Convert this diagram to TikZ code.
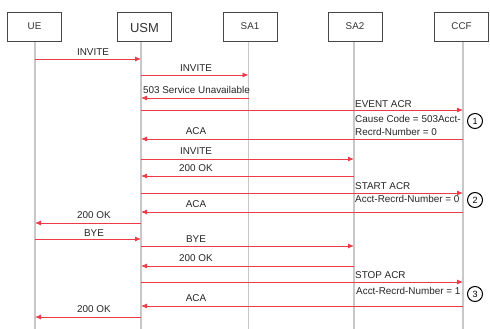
\documentclass[tikz,border=0pt]{standalone}
\usepackage{fontspec}
\setmainfont{Liberation Sans}
\usetikzlibrary{arrows.meta}
\definecolor{msgred}{RGB}{238,58,72}
\definecolor{lifegray}{RGB}{200,200,200}
\definecolor{boxgray}{RGB}{70,70,70}
\tikzset{
  entity/.style={draw=boxgray, line width=0.9pt, fill=white, minimum width=54pt, minimum height=29pt, inner sep=0pt, font=\fontsize{9.8}{11}\selectfont, text=black!80},
  lifeline/.style={draw=lifegray, line width=1.4pt},
  msg/.style={draw=msgred, line width=0.8pt, -{Latex[length=6pt,width=5pt]}},
  lbl/.style={font=\fontsize{9.9}{11}\selectfont, text=black!85, inner sep=0pt},
  step num/.style={draw=black, line width=1pt, circle, minimum size=15pt, inner sep=0pt, font=\fontsize{9}{10}\selectfont}
}
\begin{document}
\begin{tikzpicture}[x=1pt,y=-1pt]
\useasboundingbox (0,0) rectangle (490,329);
% lifeline coordinates
\coordinate (lUE) at (35,41);
\coordinate (lUSM) at (141,41);
\coordinate (lSA1) at (248.5,41);
\coordinate (lSA2) at (354,41);
\coordinate (lCCF) at (463,41);
\coordinate (bUE) at (35,329);
\coordinate (bUSM) at (141,329);
\coordinate (bSA1) at (248.5,329);
\coordinate (bSA2) at (354,329);
\coordinate (bCCF) at (463,329);
\draw[lifeline] (lUE) -- (bUE);
\draw[lifeline] (lUSM) -- (bUSM);
\draw[lifeline] (lSA1) -- (bSA1);
\draw[lifeline] (lSA2) -- (bSA2);
\draw[lifeline] (lCCF) -- (bCCF);
% entity boxes
\node[entity] (UE) at (34.5,26.5) {UE};
\node[entity, font=\fontsize{13}{14}\selectfont, text height=12pt, text depth=-1pt] (USM) at (144.5,26.5) {USM};
\node[entity] (SA1) at (250,26.5) {SA1};
\node[entity] (SA2) at (355,26.5) {SA2};
\node[entity] (CCF) at (461.5,26.5) {CCF};
% messages
\draw[msg] (lUE |- 0,59) -- (lUSM |- 0,59);
\node[lbl, anchor=base] (m1) at (93,56) {INVITE};
\draw[msg] (lUSM |- 0,75) -- (lSA1 |- 0,75);
\node[lbl, anchor=base] (m2) at (196,72) {INVITE};
\draw[msg] (lSA1 |- 0,98) -- (lUSM |- 0,98);
\node[lbl, anchor=base] (m3) at (196.5,93) {503 Service Unavailable};
\draw[msg] (lUSM |- 0,110) -- (lCCF |- 0,110);
\node[lbl, anchor=base west] (m4) at (355,107) {EVENT ACR};
\node[lbl, anchor=base west] (m4a) at (355,122.5) {Cause Code = 503Acct-};
\node[lbl, anchor=base west] (m4b) at (355,135) {Recrd-Number = 0};
\node[step num] (s1) at (475,121) {1};
\draw[msg] (lCCF |- 0,139) -- (lUSM |- 0,139);
\node[lbl, anchor=base] (m5) at (196,134) {ACA};
\draw[msg] (lUSM |- 0,159) -- (lSA2 |- 0,159);
\node[lbl, anchor=base] (m6) at (196,154) {INVITE};
\draw[msg] (lSA2 |- 0,176) -- (lUSM |- 0,176);
\node[lbl, anchor=base] (m7) at (196,171) {200 OK};
\draw[msg] (lUSM |- 0,193) -- (lCCF |- 0,193);
\node[lbl, anchor=base west] (m8) at (355,189) {START ACR};
\node[lbl, anchor=base west] (m8a) at (355,202.5) {Acct-Recrd-Number = 0};
\node[step num] (s2) at (475,200) {2};
\draw[msg] (lCCF |- 0,212) -- (lUSM |- 0,212);
\node[lbl, anchor=base] (m9) at (196,207) {ACA};
\draw[msg] (lUSM |- 0,223) -- (lUE |- 0,223);
\node[lbl, anchor=base] (m10) at (94,218) {200 OK};
\draw[msg] (lUE |- 0,239) -- (lUSM |- 0,239);
\node[lbl, anchor=base] (m11) at (94,236) {BYE};
\draw[msg] (lUSM |- 0,246) -- (lSA2 |- 0,246);
\node[lbl, anchor=base] (m12) at (196,242) {BYE};
\draw[msg] (lSA2 |- 0,266) -- (lUSM |- 0,266);
\node[lbl, anchor=base] (m13) at (196,261) {200 OK};
\draw[msg] (lUSM |- 0,282) -- (lCCF |- 0,282);
\node[lbl, anchor=base west] (m14) at (355,278.5) {STOP ACR};
\node[lbl, anchor=base west] (m14a) at (356,294.5) {Acct-Recrd-Number = 1};
\node[step num] (s3) at (475,294) {3};
\draw[msg] (lCCF |- 0,306) -- (lUSM |- 0,306);
\node[lbl, anchor=base] (m15) at (196,301) {ACA};
\draw[msg] (lUSM |- 0,317) -- (lUE |- 0,317);
\node[lbl, anchor=base] (m16) at (94,312) {200 OK};
\end{tikzpicture}
\end{document}
